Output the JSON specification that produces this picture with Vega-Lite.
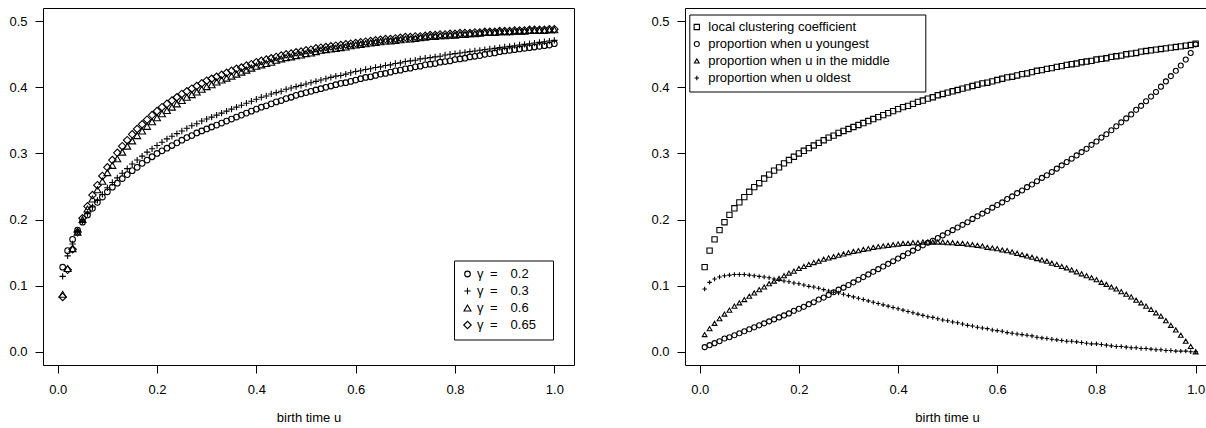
{
"$schema":"https://vega.github.io/schema/vega-lite/v6.json",
"padding":{"left":0,"top":7,"right":0,"bottom":0},
"background":"white",
"spacing":67,
"config":{
"font":"Liberation Sans",
"view":{"stroke":"black","strokeWidth":1},
"axis":{"domain":false,"grid":false,"tickColor":"black","tickSize":8,"tickWidth":1,"labelFont":"Liberation Sans","labelFontSize":13,"labelColor":"black","titleFont":"Liberation Sans","titleFontSize":13,"titleFontWeight":"normal","titleColor":"black"},
"axisY":{"labelPadding":8,"minExtent":42,"maxExtent":42},
"axisX":{"labelPadding":10,"titlePadding":15,"labelAngle":0},
"legend":{"labelLimit":500}
},
"resolve":{"scale":{"shape":"independent","size":"independent","x":"independent","y":"independent"},"legend":{"shape":"independent","size":"independent"}},
"datasets":{
"left":[
{"u":0.01,"s":"a","v":0.128},{"u":0.02,"s":"a","v":0.153},{"u":0.03,"s":"a","v":0.170},{"u":0.04,"s":"a","v":0.184},{"u":0.05,"s":"a","v":0.196},{"u":0.06,"s":"a","v":0.207},{"u":0.07,"s":"a","v":0.217},{"u":0.08,"s":"a","v":0.226},{"u":0.09,"s":"a","v":0.234},{"u":0.10,"s":"a","v":0.242},
{"u":0.11,"s":"a","v":0.249},{"u":0.12,"s":"a","v":0.255},{"u":0.13,"s":"a","v":0.262},{"u":0.14,"s":"a","v":0.268},{"u":0.15,"s":"a","v":0.274},{"u":0.16,"s":"a","v":0.279},{"u":0.17,"s":"a","v":0.285},{"u":0.18,"s":"a","v":0.290},{"u":0.19,"s":"a","v":0.295},{"u":0.20,"s":"a","v":0.300},
{"u":0.21,"s":"a","v":0.304},{"u":0.22,"s":"a","v":0.308},{"u":0.23,"s":"a","v":0.312},{"u":0.24,"s":"a","v":0.316},{"u":0.25,"s":"a","v":0.320},{"u":0.26,"s":"a","v":0.324},{"u":0.27,"s":"a","v":0.327},{"u":0.28,"s":"a","v":0.331},{"u":0.29,"s":"a","v":0.334},{"u":0.30,"s":"a","v":0.337},
{"u":0.31,"s":"a","v":0.340},{"u":0.32,"s":"a","v":0.343},{"u":0.33,"s":"a","v":0.346},{"u":0.34,"s":"a","v":0.349},{"u":0.35,"s":"a","v":0.352},{"u":0.36,"s":"a","v":0.355},{"u":0.37,"s":"a","v":0.358},{"u":0.38,"s":"a","v":0.361},{"u":0.39,"s":"a","v":0.364},{"u":0.40,"s":"a","v":0.367},
{"u":0.41,"s":"a","v":0.370},{"u":0.42,"s":"a","v":0.372},{"u":0.43,"s":"a","v":0.375},{"u":0.44,"s":"a","v":0.378},{"u":0.45,"s":"a","v":0.380},{"u":0.46,"s":"a","v":0.383},{"u":0.47,"s":"a","v":0.385},{"u":0.48,"s":"a","v":0.388},{"u":0.49,"s":"a","v":0.390},{"u":0.50,"s":"a","v":0.392},
{"u":0.51,"s":"a","v":0.394},{"u":0.52,"s":"a","v":0.396},{"u":0.53,"s":"a","v":0.398},{"u":0.54,"s":"a","v":0.400},{"u":0.55,"s":"a","v":0.402},{"u":0.56,"s":"a","v":0.404},{"u":0.57,"s":"a","v":0.406},{"u":0.58,"s":"a","v":0.407},{"u":0.59,"s":"a","v":0.409},{"u":0.60,"s":"a","v":0.411},
{"u":0.61,"s":"a","v":0.413},{"u":0.62,"s":"a","v":0.415},{"u":0.63,"s":"a","v":0.416},{"u":0.64,"s":"a","v":0.418},{"u":0.65,"s":"a","v":0.420},{"u":0.66,"s":"a","v":0.421},{"u":0.67,"s":"a","v":0.423},{"u":0.68,"s":"a","v":0.425},{"u":0.69,"s":"a","v":0.426},{"u":0.70,"s":"a","v":0.428},
{"u":0.71,"s":"a","v":0.429},{"u":0.72,"s":"a","v":0.431},{"u":0.73,"s":"a","v":0.432},{"u":0.74,"s":"a","v":0.434},{"u":0.75,"s":"a","v":0.435},{"u":0.76,"s":"a","v":0.436},{"u":0.77,"s":"a","v":0.438},{"u":0.78,"s":"a","v":0.439},{"u":0.79,"s":"a","v":0.440},{"u":0.80,"s":"a","v":0.442},
{"u":0.81,"s":"a","v":0.443},{"u":0.82,"s":"a","v":0.444},{"u":0.83,"s":"a","v":0.446},{"u":0.84,"s":"a","v":0.447},{"u":0.85,"s":"a","v":0.448},{"u":0.86,"s":"a","v":0.450},{"u":0.87,"s":"a","v":0.451},{"u":0.88,"s":"a","v":0.452},{"u":0.89,"s":"a","v":0.454},{"u":0.90,"s":"a","v":0.455},
{"u":0.91,"s":"a","v":0.456},{"u":0.92,"s":"a","v":0.457},{"u":0.93,"s":"a","v":0.458},{"u":0.94,"s":"a","v":0.459},{"u":0.95,"s":"a","v":0.460},{"u":0.96,"s":"a","v":0.461},{"u":0.97,"s":"a","v":0.462},{"u":0.98,"s":"a","v":0.463},{"u":0.99,"s":"a","v":0.464},{"u":1.00,"s":"a","v":0.466},
{"u":0.01,"s":"b","v":0.114},{"u":0.02,"s":"b","v":0.145},{"u":0.03,"s":"b","v":0.163},{"u":0.04,"s":"b","v":0.182},{"u":0.05,"s":"b","v":0.197},{"u":0.06,"s":"b","v":0.209},{"u":0.07,"s":"b","v":0.219},{"u":0.08,"s":"b","v":0.229},{"u":0.09,"s":"b","v":0.238},{"u":0.10,"s":"b","v":0.248},
{"u":0.11,"s":"b","v":0.256},{"u":0.12,"s":"b","v":0.263},{"u":0.13,"s":"b","v":0.270},{"u":0.14,"s":"b","v":0.277},{"u":0.15,"s":"b","v":0.284},{"u":0.16,"s":"b","v":0.290},{"u":0.17,"s":"b","v":0.296},{"u":0.18,"s":"b","v":0.302},{"u":0.19,"s":"b","v":0.307},{"u":0.20,"s":"b","v":0.312},
{"u":0.21,"s":"b","v":0.317},{"u":0.22,"s":"b","v":0.322},{"u":0.23,"s":"b","v":0.326},{"u":0.24,"s":"b","v":0.330},{"u":0.25,"s":"b","v":0.334},{"u":0.26,"s":"b","v":0.338},{"u":0.27,"s":"b","v":0.342},{"u":0.28,"s":"b","v":0.345},{"u":0.29,"s":"b","v":0.349},{"u":0.30,"s":"b","v":0.352},
{"u":0.31,"s":"b","v":0.355},{"u":0.32,"s":"b","v":0.358},{"u":0.33,"s":"b","v":0.361},{"u":0.34,"s":"b","v":0.364},{"u":0.35,"s":"b","v":0.367},{"u":0.36,"s":"b","v":0.370},{"u":0.37,"s":"b","v":0.373},{"u":0.38,"s":"b","v":0.376},{"u":0.39,"s":"b","v":0.379},{"u":0.40,"s":"b","v":0.382},
{"u":0.41,"s":"b","v":0.385},{"u":0.42,"s":"b","v":0.387},{"u":0.43,"s":"b","v":0.390},{"u":0.44,"s":"b","v":0.392},{"u":0.45,"s":"b","v":0.394},{"u":0.46,"s":"b","v":0.397},{"u":0.47,"s":"b","v":0.399},{"u":0.48,"s":"b","v":0.401},{"u":0.49,"s":"b","v":0.403},{"u":0.50,"s":"b","v":0.405},
{"u":0.51,"s":"b","v":0.407},{"u":0.52,"s":"b","v":0.409},{"u":0.53,"s":"b","v":0.411},{"u":0.54,"s":"b","v":0.413},{"u":0.55,"s":"b","v":0.415},{"u":0.56,"s":"b","v":0.417},{"u":0.57,"s":"b","v":0.418},{"u":0.58,"s":"b","v":0.420},{"u":0.59,"s":"b","v":0.422},{"u":0.60,"s":"b","v":0.424},
{"u":0.61,"s":"b","v":0.425},{"u":0.62,"s":"b","v":0.427},{"u":0.63,"s":"b","v":0.428},{"u":0.64,"s":"b","v":0.430},{"u":0.65,"s":"b","v":0.431},{"u":0.66,"s":"b","v":0.433},{"u":0.67,"s":"b","v":0.434},{"u":0.68,"s":"b","v":0.436},{"u":0.69,"s":"b","v":0.437},{"u":0.70,"s":"b","v":0.439},
{"u":0.71,"s":"b","v":0.440},{"u":0.72,"s":"b","v":0.441},{"u":0.73,"s":"b","v":0.443},{"u":0.74,"s":"b","v":0.444},{"u":0.75,"s":"b","v":0.445},{"u":0.76,"s":"b","v":0.446},{"u":0.77,"s":"b","v":0.447},{"u":0.78,"s":"b","v":0.449},{"u":0.79,"s":"b","v":0.450},{"u":0.80,"s":"b","v":0.451},
{"u":0.81,"s":"b","v":0.452},{"u":0.82,"s":"b","v":0.453},{"u":0.83,"s":"b","v":0.454},{"u":0.84,"s":"b","v":0.455},{"u":0.85,"s":"b","v":0.456},{"u":0.86,"s":"b","v":0.457},{"u":0.87,"s":"b","v":0.458},{"u":0.88,"s":"b","v":0.459},{"u":0.89,"s":"b","v":0.460},{"u":0.90,"s":"b","v":0.461},
{"u":0.91,"s":"b","v":0.462},{"u":0.92,"s":"b","v":0.463},{"u":0.93,"s":"b","v":0.464},{"u":0.94,"s":"b","v":0.465},{"u":0.95,"s":"b","v":0.466},{"u":0.96,"s":"b","v":0.467},{"u":0.97,"s":"b","v":0.468},{"u":0.98,"s":"b","v":0.469},{"u":0.99,"s":"b","v":0.470},{"u":1.00,"s":"b","v":0.471},
{"u":0.01,"s":"c","v":0.087},{"u":0.02,"s":"c","v":0.126},{"u":0.03,"s":"c","v":0.156},{"u":0.04,"s":"c","v":0.181},{"u":0.05,"s":"c","v":0.200},{"u":0.06,"s":"c","v":0.216},{"u":0.07,"s":"c","v":0.231},{"u":0.08,"s":"c","v":0.245},{"u":0.09,"s":"c","v":0.258},{"u":0.10,"s":"c","v":0.271},
{"u":0.11,"s":"c","v":0.282},{"u":0.12,"s":"c","v":0.292},{"u":0.13,"s":"c","v":0.302},{"u":0.14,"s":"c","v":0.311},{"u":0.15,"s":"c","v":0.319},{"u":0.16,"s":"c","v":0.327},{"u":0.17,"s":"c","v":0.334},{"u":0.18,"s":"c","v":0.341},{"u":0.19,"s":"c","v":0.348},{"u":0.20,"s":"c","v":0.354},
{"u":0.21,"s":"c","v":0.360},{"u":0.22,"s":"c","v":0.365},{"u":0.23,"s":"c","v":0.370},{"u":0.24,"s":"c","v":0.375},{"u":0.25,"s":"c","v":0.380},{"u":0.26,"s":"c","v":0.385},{"u":0.27,"s":"c","v":0.389},{"u":0.28,"s":"c","v":0.393},{"u":0.29,"s":"c","v":0.397},{"u":0.30,"s":"c","v":0.401},
{"u":0.31,"s":"c","v":0.404},{"u":0.32,"s":"c","v":0.408},{"u":0.33,"s":"c","v":0.411},{"u":0.34,"s":"c","v":0.414},{"u":0.35,"s":"c","v":0.417},{"u":0.36,"s":"c","v":0.420},{"u":0.37,"s":"c","v":0.423},{"u":0.38,"s":"c","v":0.426},{"u":0.39,"s":"c","v":0.429},{"u":0.40,"s":"c","v":0.432},
{"u":0.41,"s":"c","v":0.434},{"u":0.42,"s":"c","v":0.436},{"u":0.43,"s":"c","v":0.438},{"u":0.44,"s":"c","v":0.441},{"u":0.45,"s":"c","v":0.443},{"u":0.46,"s":"c","v":0.445},{"u":0.47,"s":"c","v":0.446},{"u":0.48,"s":"c","v":0.448},{"u":0.49,"s":"c","v":0.449},{"u":0.50,"s":"c","v":0.451},
{"u":0.51,"s":"c","v":0.452},{"u":0.52,"s":"c","v":0.454},{"u":0.53,"s":"c","v":0.456},{"u":0.54,"s":"c","v":0.457},{"u":0.55,"s":"c","v":0.458},{"u":0.56,"s":"c","v":0.459},{"u":0.57,"s":"c","v":0.460},{"u":0.58,"s":"c","v":0.461},{"u":0.59,"s":"c","v":0.463},{"u":0.60,"s":"c","v":0.464},
{"u":0.61,"s":"c","v":0.465},{"u":0.62,"s":"c","v":0.466},{"u":0.63,"s":"c","v":0.467},{"u":0.64,"s":"c","v":0.468},{"u":0.65,"s":"c","v":0.469},{"u":0.66,"s":"c","v":0.470},{"u":0.67,"s":"c","v":0.470},{"u":0.68,"s":"c","v":0.471},{"u":0.69,"s":"c","v":0.472},{"u":0.70,"s":"c","v":0.473},
{"u":0.71,"s":"c","v":0.473},{"u":0.72,"s":"c","v":0.474},{"u":0.73,"s":"c","v":0.475},{"u":0.74,"s":"c","v":0.476},{"u":0.75,"s":"c","v":0.477},{"u":0.76,"s":"c","v":0.477},{"u":0.77,"s":"c","v":0.478},{"u":0.78,"s":"c","v":0.478},{"u":0.79,"s":"c","v":0.479},{"u":0.80,"s":"c","v":0.479},
{"u":0.81,"s":"c","v":0.480},{"u":0.82,"s":"c","v":0.480},{"u":0.83,"s":"c","v":0.481},{"u":0.84,"s":"c","v":0.481},{"u":0.85,"s":"c","v":0.482},{"u":0.86,"s":"c","v":0.483},{"u":0.87,"s":"c","v":0.483},{"u":0.88,"s":"c","v":0.483},{"u":0.89,"s":"c","v":0.484},{"u":0.90,"s":"c","v":0.484},
{"u":0.91,"s":"c","v":0.484},{"u":0.92,"s":"c","v":0.485},{"u":0.93,"s":"c","v":0.485},{"u":0.94,"s":"c","v":0.485},{"u":0.95,"s":"c","v":0.486},{"u":0.96,"s":"c","v":0.486},{"u":0.97,"s":"c","v":0.486},{"u":0.98,"s":"c","v":0.486},{"u":0.99,"s":"c","v":0.487},{"u":1.00,"s":"c","v":0.487},
{"u":0.01,"s":"d","v":0.083},{"u":0.02,"s":"d","v":0.124},{"u":0.03,"s":"d","v":0.155},{"u":0.04,"s":"d","v":0.181},{"u":0.05,"s":"d","v":0.202},{"u":0.06,"s":"d","v":0.220},{"u":0.07,"s":"d","v":0.237},{"u":0.08,"s":"d","v":0.252},{"u":0.09,"s":"d","v":0.266},{"u":0.10,"s":"d","v":0.279},
{"u":0.11,"s":"d","v":0.290},{"u":0.12,"s":"d","v":0.301},{"u":0.13,"s":"d","v":0.311},{"u":0.14,"s":"d","v":0.320},{"u":0.15,"s":"d","v":0.329},{"u":0.16,"s":"d","v":0.337},{"u":0.17,"s":"d","v":0.344},{"u":0.18,"s":"d","v":0.351},{"u":0.19,"s":"d","v":0.358},{"u":0.20,"s":"d","v":0.364},
{"u":0.21,"s":"d","v":0.370},{"u":0.22,"s":"d","v":0.375},{"u":0.23,"s":"d","v":0.380},{"u":0.24,"s":"d","v":0.385},{"u":0.25,"s":"d","v":0.390},{"u":0.26,"s":"d","v":0.394},{"u":0.27,"s":"d","v":0.398},{"u":0.28,"s":"d","v":0.402},{"u":0.29,"s":"d","v":0.406},{"u":0.30,"s":"d","v":0.410},
{"u":0.31,"s":"d","v":0.413},{"u":0.32,"s":"d","v":0.416},{"u":0.33,"s":"d","v":0.419},{"u":0.34,"s":"d","v":0.422},{"u":0.35,"s":"d","v":0.425},{"u":0.36,"s":"d","v":0.428},{"u":0.37,"s":"d","v":0.430},{"u":0.38,"s":"d","v":0.433},{"u":0.39,"s":"d","v":0.435},{"u":0.40,"s":"d","v":0.438},
{"u":0.41,"s":"d","v":0.440},{"u":0.42,"s":"d","v":0.442},{"u":0.43,"s":"d","v":0.444},{"u":0.44,"s":"d","v":0.446},{"u":0.45,"s":"d","v":0.448},{"u":0.46,"s":"d","v":0.450},{"u":0.47,"s":"d","v":0.451},{"u":0.48,"s":"d","v":0.453},{"u":0.49,"s":"d","v":0.454},{"u":0.50,"s":"d","v":0.456},
{"u":0.51,"s":"d","v":0.457},{"u":0.52,"s":"d","v":0.459},{"u":0.53,"s":"d","v":0.460},{"u":0.54,"s":"d","v":0.461},{"u":0.55,"s":"d","v":0.462},{"u":0.56,"s":"d","v":0.463},{"u":0.57,"s":"d","v":0.464},{"u":0.58,"s":"d","v":0.465},{"u":0.59,"s":"d","v":0.466},{"u":0.60,"s":"d","v":0.467},
{"u":0.61,"s":"d","v":0.468},{"u":0.62,"s":"d","v":0.469},{"u":0.63,"s":"d","v":0.470},{"u":0.64,"s":"d","v":0.471},{"u":0.65,"s":"d","v":0.472},{"u":0.66,"s":"d","v":0.473},{"u":0.67,"s":"d","v":0.473},{"u":0.68,"s":"d","v":0.474},{"u":0.69,"s":"d","v":0.475},{"u":0.70,"s":"d","v":0.476},
{"u":0.71,"s":"d","v":0.476},{"u":0.72,"s":"d","v":0.477},{"u":0.73,"s":"d","v":0.477},{"u":0.74,"s":"d","v":0.478},{"u":0.75,"s":"d","v":0.479},{"u":0.76,"s":"d","v":0.479},{"u":0.77,"s":"d","v":0.480},{"u":0.78,"s":"d","v":0.480},{"u":0.79,"s":"d","v":0.481},{"u":0.80,"s":"d","v":0.481},
{"u":0.81,"s":"d","v":0.482},{"u":0.82,"s":"d","v":0.482},{"u":0.83,"s":"d","v":0.482},{"u":0.84,"s":"d","v":0.483},{"u":0.85,"s":"d","v":0.483},{"u":0.86,"s":"d","v":0.484},{"u":0.87,"s":"d","v":0.484},{"u":0.88,"s":"d","v":0.484},{"u":0.89,"s":"d","v":0.485},{"u":0.90,"s":"d","v":0.485},
{"u":0.91,"s":"d","v":0.485},{"u":0.92,"s":"d","v":0.486},{"u":0.93,"s":"d","v":0.486},{"u":0.94,"s":"d","v":0.486},{"u":0.95,"s":"d","v":0.487},{"u":0.96,"s":"d","v":0.487},{"u":0.97,"s":"d","v":0.487},{"u":0.98,"s":"d","v":0.487},{"u":0.99,"s":"d","v":0.488},{"u":1.00,"s":"d","v":0.488}
],
"right":[
{"u":0.01,"s":"s","v":0.128},{"u":0.02,"s":"s","v":0.153},{"u":0.03,"s":"s","v":0.170},{"u":0.04,"s":"s","v":0.184},{"u":0.05,"s":"s","v":0.196},{"u":0.06,"s":"s","v":0.207},{"u":0.07,"s":"s","v":0.217},{"u":0.08,"s":"s","v":0.226},{"u":0.09,"s":"s","v":0.234},{"u":0.10,"s":"s","v":0.242},
{"u":0.11,"s":"s","v":0.249},{"u":0.12,"s":"s","v":0.255},{"u":0.13,"s":"s","v":0.262},{"u":0.14,"s":"s","v":0.268},{"u":0.15,"s":"s","v":0.274},{"u":0.16,"s":"s","v":0.279},{"u":0.17,"s":"s","v":0.285},{"u":0.18,"s":"s","v":0.290},{"u":0.19,"s":"s","v":0.295},{"u":0.20,"s":"s","v":0.300},
{"u":0.21,"s":"s","v":0.304},{"u":0.22,"s":"s","v":0.308},{"u":0.23,"s":"s","v":0.312},{"u":0.24,"s":"s","v":0.316},{"u":0.25,"s":"s","v":0.320},{"u":0.26,"s":"s","v":0.324},{"u":0.27,"s":"s","v":0.327},{"u":0.28,"s":"s","v":0.331},{"u":0.29,"s":"s","v":0.334},{"u":0.30,"s":"s","v":0.337},
{"u":0.31,"s":"s","v":0.340},{"u":0.32,"s":"s","v":0.343},{"u":0.33,"s":"s","v":0.346},{"u":0.34,"s":"s","v":0.349},{"u":0.35,"s":"s","v":0.352},{"u":0.36,"s":"s","v":0.355},{"u":0.37,"s":"s","v":0.358},{"u":0.38,"s":"s","v":0.361},{"u":0.39,"s":"s","v":0.364},{"u":0.40,"s":"s","v":0.367},
{"u":0.41,"s":"s","v":0.370},{"u":0.42,"s":"s","v":0.372},{"u":0.43,"s":"s","v":0.375},{"u":0.44,"s":"s","v":0.378},{"u":0.45,"s":"s","v":0.380},{"u":0.46,"s":"s","v":0.383},{"u":0.47,"s":"s","v":0.385},{"u":0.48,"s":"s","v":0.388},{"u":0.49,"s":"s","v":0.390},{"u":0.50,"s":"s","v":0.392},
{"u":0.51,"s":"s","v":0.394},{"u":0.52,"s":"s","v":0.396},{"u":0.53,"s":"s","v":0.398},{"u":0.54,"s":"s","v":0.400},{"u":0.55,"s":"s","v":0.402},{"u":0.56,"s":"s","v":0.404},{"u":0.57,"s":"s","v":0.406},{"u":0.58,"s":"s","v":0.407},{"u":0.59,"s":"s","v":0.409},{"u":0.60,"s":"s","v":0.411},
{"u":0.61,"s":"s","v":0.413},{"u":0.62,"s":"s","v":0.415},{"u":0.63,"s":"s","v":0.416},{"u":0.64,"s":"s","v":0.418},{"u":0.65,"s":"s","v":0.420},{"u":0.66,"s":"s","v":0.421},{"u":0.67,"s":"s","v":0.423},{"u":0.68,"s":"s","v":0.425},{"u":0.69,"s":"s","v":0.426},{"u":0.70,"s":"s","v":0.428},
{"u":0.71,"s":"s","v":0.429},{"u":0.72,"s":"s","v":0.431},{"u":0.73,"s":"s","v":0.432},{"u":0.74,"s":"s","v":0.434},{"u":0.75,"s":"s","v":0.435},{"u":0.76,"s":"s","v":0.436},{"u":0.77,"s":"s","v":0.438},{"u":0.78,"s":"s","v":0.439},{"u":0.79,"s":"s","v":0.440},{"u":0.80,"s":"s","v":0.442},
{"u":0.81,"s":"s","v":0.443},{"u":0.82,"s":"s","v":0.444},{"u":0.83,"s":"s","v":0.446},{"u":0.84,"s":"s","v":0.447},{"u":0.85,"s":"s","v":0.448},{"u":0.86,"s":"s","v":0.450},{"u":0.87,"s":"s","v":0.451},{"u":0.88,"s":"s","v":0.452},{"u":0.89,"s":"s","v":0.454},{"u":0.90,"s":"s","v":0.455},
{"u":0.91,"s":"s","v":0.456},{"u":0.92,"s":"s","v":0.457},{"u":0.93,"s":"s","v":0.458},{"u":0.94,"s":"s","v":0.459},{"u":0.95,"s":"s","v":0.460},{"u":0.96,"s":"s","v":0.461},{"u":0.97,"s":"s","v":0.462},{"u":0.98,"s":"s","v":0.463},{"u":0.99,"s":"s","v":0.464},{"u":1.00,"s":"s","v":0.466},
{"u":0.01,"s":"y","v":0.007},{"u":0.02,"s":"y","v":0.010},{"u":0.03,"s":"y","v":0.013},{"u":0.04,"s":"y","v":0.016},{"u":0.05,"s":"y","v":0.020},{"u":0.06,"s":"y","v":0.022},{"u":0.07,"s":"y","v":0.025},{"u":0.08,"s":"y","v":0.028},{"u":0.09,"s":"y","v":0.031},{"u":0.10,"s":"y","v":0.034},
{"u":0.11,"s":"y","v":0.037},{"u":0.12,"s":"y","v":0.040},{"u":0.13,"s":"y","v":0.043},{"u":0.14,"s":"y","v":0.046},{"u":0.15,"s":"y","v":0.049},{"u":0.16,"s":"y","v":0.052},{"u":0.17,"s":"y","v":0.055},{"u":0.18,"s":"y","v":0.058},{"u":0.19,"s":"y","v":0.062},{"u":0.20,"s":"y","v":0.065},
{"u":0.21,"s":"y","v":0.068},{"u":0.22,"s":"y","v":0.072},{"u":0.23,"s":"y","v":0.075},{"u":0.24,"s":"y","v":0.079},{"u":0.25,"s":"y","v":0.082},{"u":0.26,"s":"y","v":0.086},{"u":0.27,"s":"y","v":0.090},{"u":0.28,"s":"y","v":0.094},{"u":0.29,"s":"y","v":0.097},{"u":0.30,"s":"y","v":0.101},
{"u":0.31,"s":"y","v":0.105},{"u":0.32,"s":"y","v":0.109},{"u":0.33,"s":"y","v":0.113},{"u":0.34,"s":"y","v":0.117},{"u":0.35,"s":"y","v":0.121},{"u":0.36,"s":"y","v":0.125},{"u":0.37,"s":"y","v":0.129},{"u":0.38,"s":"y","v":0.133},{"u":0.39,"s":"y","v":0.137},{"u":0.40,"s":"y","v":0.141},
{"u":0.41,"s":"y","v":0.145},{"u":0.42,"s":"y","v":0.149},{"u":0.43,"s":"y","v":0.153},{"u":0.44,"s":"y","v":0.157},{"u":0.45,"s":"y","v":0.161},{"u":0.46,"s":"y","v":0.165},{"u":0.47,"s":"y","v":0.168},{"u":0.48,"s":"y","v":0.172},{"u":0.49,"s":"y","v":0.176},{"u":0.50,"s":"y","v":0.180},
{"u":0.51,"s":"y","v":0.184},{"u":0.52,"s":"y","v":0.188},{"u":0.53,"s":"y","v":0.192},{"u":0.54,"s":"y","v":0.196},{"u":0.55,"s":"y","v":0.201},{"u":0.56,"s":"y","v":0.205},{"u":0.57,"s":"y","v":0.209},{"u":0.58,"s":"y","v":0.213},{"u":0.59,"s":"y","v":0.218},{"u":0.60,"s":"y","v":0.222},
{"u":0.61,"s":"y","v":0.226},{"u":0.62,"s":"y","v":0.231},{"u":0.63,"s":"y","v":0.235},{"u":0.64,"s":"y","v":0.240},{"u":0.65,"s":"y","v":0.244},{"u":0.66,"s":"y","v":0.249},{"u":0.67,"s":"y","v":0.253},{"u":0.68,"s":"y","v":0.258},{"u":0.69,"s":"y","v":0.263},{"u":0.70,"s":"y","v":0.267},
{"u":0.71,"s":"y","v":0.272},{"u":0.72,"s":"y","v":0.277},{"u":0.73,"s":"y","v":0.282},{"u":0.74,"s":"y","v":0.287},{"u":0.75,"s":"y","v":0.292},{"u":0.76,"s":"y","v":0.297},{"u":0.77,"s":"y","v":0.302},{"u":0.78,"s":"y","v":0.307},{"u":0.79,"s":"y","v":0.313},{"u":0.80,"s":"y","v":0.318},
{"u":0.81,"s":"y","v":0.324},{"u":0.82,"s":"y","v":0.329},{"u":0.83,"s":"y","v":0.335},{"u":0.84,"s":"y","v":0.341},{"u":0.85,"s":"y","v":0.347},{"u":0.86,"s":"y","v":0.353},{"u":0.87,"s":"y","v":0.359},{"u":0.88,"s":"y","v":0.366},{"u":0.89,"s":"y","v":0.372},{"u":0.90,"s":"y","v":0.379},
{"u":0.91,"s":"y","v":0.386},{"u":0.92,"s":"y","v":0.393},{"u":0.93,"s":"y","v":0.401},{"u":0.94,"s":"y","v":0.409},{"u":0.95,"s":"y","v":0.417},{"u":0.96,"s":"y","v":0.425},{"u":0.97,"s":"y","v":0.433},{"u":0.98,"s":"y","v":0.442},{"u":0.99,"s":"y","v":0.452},{"u":1.00,"s":"y","v":0.465},
{"u":0.01,"s":"m","v":0.026},{"u":0.02,"s":"m","v":0.035},{"u":0.03,"s":"m","v":0.043},{"u":0.04,"s":"m","v":0.050},{"u":0.05,"s":"m","v":0.057},{"u":0.06,"s":"m","v":0.063},{"u":0.07,"s":"m","v":0.069},{"u":0.08,"s":"m","v":0.074},{"u":0.09,"s":"m","v":0.079},{"u":0.10,"s":"m","v":0.084},
{"u":0.11,"s":"m","v":0.089},{"u":0.12,"s":"m","v":0.094},{"u":0.13,"s":"m","v":0.098},{"u":0.14,"s":"m","v":0.103},{"u":0.15,"s":"m","v":0.107},{"u":0.16,"s":"m","v":0.111},{"u":0.17,"s":"m","v":0.115},{"u":0.18,"s":"m","v":0.119},{"u":0.19,"s":"m","v":0.122},{"u":0.20,"s":"m","v":0.126},
{"u":0.21,"s":"m","v":0.129},{"u":0.22,"s":"m","v":0.132},{"u":0.23,"s":"m","v":0.135},{"u":0.24,"s":"m","v":0.137},{"u":0.25,"s":"m","v":0.140},{"u":0.26,"s":"m","v":0.142},{"u":0.27,"s":"m","v":0.144},{"u":0.28,"s":"m","v":0.146},{"u":0.29,"s":"m","v":0.148},{"u":0.30,"s":"m","v":0.150},
{"u":0.31,"s":"m","v":0.152},{"u":0.32,"s":"m","v":0.153},{"u":0.33,"s":"m","v":0.155},{"u":0.34,"s":"m","v":0.156},{"u":0.35,"s":"m","v":0.158},{"u":0.36,"s":"m","v":0.159},{"u":0.37,"s":"m","v":0.160},{"u":0.38,"s":"m","v":0.161},{"u":0.39,"s":"m","v":0.162},{"u":0.40,"s":"m","v":0.163},
{"u":0.41,"s":"m","v":0.164},{"u":0.42,"s":"m","v":0.164},{"u":0.43,"s":"m","v":0.165},{"u":0.44,"s":"m","v":0.165},{"u":0.45,"s":"m","v":0.166},{"u":0.46,"s":"m","v":0.166},{"u":0.47,"s":"m","v":0.166},{"u":0.48,"s":"m","v":0.166},{"u":0.49,"s":"m","v":0.166},{"u":0.50,"s":"m","v":0.165},
{"u":0.51,"s":"m","v":0.165},{"u":0.52,"s":"m","v":0.164},{"u":0.53,"s":"m","v":0.164},{"u":0.54,"s":"m","v":0.163},{"u":0.55,"s":"m","v":0.162},{"u":0.56,"s":"m","v":0.161},{"u":0.57,"s":"m","v":0.160},{"u":0.58,"s":"m","v":0.158},{"u":0.59,"s":"m","v":0.157},{"u":0.60,"s":"m","v":0.156},
{"u":0.61,"s":"m","v":0.154},{"u":0.62,"s":"m","v":0.153},{"u":0.63,"s":"m","v":0.151},{"u":0.64,"s":"m","v":0.149},{"u":0.65,"s":"m","v":0.147},{"u":0.66,"s":"m","v":0.145},{"u":0.67,"s":"m","v":0.143},{"u":0.68,"s":"m","v":0.141},{"u":0.69,"s":"m","v":0.139},{"u":0.70,"s":"m","v":0.137},
{"u":0.71,"s":"m","v":0.134},{"u":0.72,"s":"m","v":0.132},{"u":0.73,"s":"m","v":0.129},{"u":0.74,"s":"m","v":0.127},{"u":0.75,"s":"m","v":0.124},{"u":0.76,"s":"m","v":0.121},{"u":0.77,"s":"m","v":0.118},{"u":0.78,"s":"m","v":0.115},{"u":0.79,"s":"m","v":0.112},{"u":0.80,"s":"m","v":0.109},
{"u":0.81,"s":"m","v":0.105},{"u":0.82,"s":"m","v":0.102},{"u":0.83,"s":"m","v":0.098},{"u":0.84,"s":"m","v":0.095},{"u":0.85,"s":"m","v":0.091},{"u":0.86,"s":"m","v":0.087},{"u":0.87,"s":"m","v":0.083},{"u":0.88,"s":"m","v":0.078},{"u":0.89,"s":"m","v":0.074},{"u":0.90,"s":"m","v":0.069},
{"u":0.91,"s":"m","v":0.064},{"u":0.92,"s":"m","v":0.059},{"u":0.93,"s":"m","v":0.054},{"u":0.94,"s":"m","v":0.047},{"u":0.95,"s":"m","v":0.040},{"u":0.96,"s":"m","v":0.033},{"u":0.97,"s":"m","v":0.025},{"u":0.98,"s":"m","v":0.016},{"u":0.99,"s":"m","v":0.008},{"u":1.00,"s":"m","v":0.000},
{"u":0.01,"s":"o","v":0.095},{"u":0.02,"s":"o","v":0.105},{"u":0.03,"s":"o","v":0.110},{"u":0.04,"s":"o","v":0.113},{"u":0.05,"s":"o","v":0.115},{"u":0.06,"s":"o","v":0.116},{"u":0.07,"s":"o","v":0.117},{"u":0.08,"s":"o","v":0.117},{"u":0.09,"s":"o","v":0.117},{"u":0.10,"s":"o","v":0.116},
{"u":0.11,"s":"o","v":0.115},{"u":0.12,"s":"o","v":0.114},{"u":0.13,"s":"o","v":0.113},{"u":0.14,"s":"o","v":0.112},{"u":0.15,"s":"o","v":0.110},{"u":0.16,"s":"o","v":0.109},{"u":0.17,"s":"o","v":0.107},{"u":0.18,"s":"o","v":0.106},{"u":0.19,"s":"o","v":0.104},{"u":0.20,"s":"o","v":0.103},
{"u":0.21,"s":"o","v":0.101},{"u":0.22,"s":"o","v":0.099},{"u":0.23,"s":"o","v":0.098},{"u":0.24,"s":"o","v":0.096},{"u":0.25,"s":"o","v":0.094},{"u":0.26,"s":"o","v":0.092},{"u":0.27,"s":"o","v":0.090},{"u":0.28,"s":"o","v":0.089},{"u":0.29,"s":"o","v":0.087},{"u":0.30,"s":"o","v":0.085},
{"u":0.31,"s":"o","v":0.083},{"u":0.32,"s":"o","v":0.081},{"u":0.33,"s":"o","v":0.079},{"u":0.34,"s":"o","v":0.077},{"u":0.35,"s":"o","v":0.075},{"u":0.36,"s":"o","v":0.073},{"u":0.37,"s":"o","v":0.071},{"u":0.38,"s":"o","v":0.069},{"u":0.39,"s":"o","v":0.067},{"u":0.40,"s":"o","v":0.065},
{"u":0.41,"s":"o","v":0.063},{"u":0.42,"s":"o","v":0.061},{"u":0.43,"s":"o","v":0.059},{"u":0.44,"s":"o","v":0.057},{"u":0.45,"s":"o","v":0.055},{"u":0.46,"s":"o","v":0.053},{"u":0.47,"s":"o","v":0.052},{"u":0.48,"s":"o","v":0.050},{"u":0.49,"s":"o","v":0.048},{"u":0.50,"s":"o","v":0.047},
{"u":0.51,"s":"o","v":0.045},{"u":0.52,"s":"o","v":0.044},{"u":0.53,"s":"o","v":0.042},{"u":0.54,"s":"o","v":0.040},{"u":0.55,"s":"o","v":0.039},{"u":0.56,"s":"o","v":0.037},{"u":0.57,"s":"o","v":0.036},{"u":0.58,"s":"o","v":0.035},{"u":0.59,"s":"o","v":0.033},{"u":0.60,"s":"o","v":0.032},
{"u":0.61,"s":"o","v":0.031},{"u":0.62,"s":"o","v":0.029},{"u":0.63,"s":"o","v":0.028},{"u":0.64,"s":"o","v":0.027},{"u":0.65,"s":"o","v":0.026},{"u":0.66,"s":"o","v":0.025},{"u":0.67,"s":"o","v":0.024},{"u":0.68,"s":"o","v":0.022},{"u":0.69,"s":"o","v":0.021},{"u":0.70,"s":"o","v":0.020},
{"u":0.71,"s":"o","v":0.019},{"u":0.72,"s":"o","v":0.018},{"u":0.73,"s":"o","v":0.017},{"u":0.74,"s":"o","v":0.016},{"u":0.75,"s":"o","v":0.016},{"u":0.76,"s":"o","v":0.015},{"u":0.77,"s":"o","v":0.014},{"u":0.78,"s":"o","v":0.013},{"u":0.79,"s":"o","v":0.012},{"u":0.80,"s":"o","v":0.012},
{"u":0.81,"s":"o","v":0.011},{"u":0.82,"s":"o","v":0.010},{"u":0.83,"s":"o","v":0.009},{"u":0.84,"s":"o","v":0.008},{"u":0.85,"s":"o","v":0.008},{"u":0.86,"s":"o","v":0.007},{"u":0.87,"s":"o","v":0.006},{"u":0.88,"s":"o","v":0.006},{"u":0.89,"s":"o","v":0.005},{"u":0.90,"s":"o","v":0.005},
{"u":0.91,"s":"o","v":0.004},{"u":0.92,"s":"o","v":0.003},{"u":0.93,"s":"o","v":0.003},{"u":0.94,"s":"o","v":0.002},{"u":0.95,"s":"o","v":0.002},{"u":0.96,"s":"o","v":0.001},{"u":0.97,"s":"o","v":0.001},{"u":0.98,"s":"o","v":0.001},{"u":0.99,"s":"o","v":0.000},{"u":1.00,"s":"o","v":0.000}
]
},
"hconcat":[
{
"width":531,"height":357,
"data":{"name":"left"},
"mark":{"type":"point","filled":false,"strokeWidth":1.1,"color":"black","opacity":1},
"encoding":{
"x":{"field":"u","type":"quantitative","scale":{"domain":[-0.0296,1.0396],"nice":false,"zero":false},"axis":{"values":[0,0.2,0.4,0.6,0.8,1],"format":".1f","title":"birth time u"}},
"y":{"field":"v","type":"quantitative","scale":{"domain":[-0.02,0.52],"nice":false,"zero":false},"axis":{"values":[0,0.1,0.2,0.3,0.4,0.5],"format":".1f","title":null}},
"shape":{"field":"s","type":"nominal","scale":{"domain":["a","b","c","d"],"range":["circle","M-1,0H1M0,-1V1","triangle-up","diamond"]},
"legend":{"orient":"none","legendX":411,"legendY":252.5,"title":null,"strokeColor":"black","fillColor":"white","padding":7,"rowPadding":3,"labelOffset":3,"labelFontSize":13,"labelFont":"Liberation Sans","labelColor":"black","symbolStrokeColor":"black","symbolStrokeWidth":1.1,
"labelExpr":"(datum.label == 'a' ? 'γ\u2002=\u20030.2' : datum.label == 'b' ? 'γ\u2002=\u20030.3' : datum.label == 'c' ? 'γ\u2002=\u20030.6' : 'γ\u2002=\u20030.65') + '\u2800'"}},
"size":{"field":"s","type":"nominal","scale":{"domain":["a","b","c","d"],"range":[32,56,56,56]},
"legend":{"orient":"none","legendX":411,"legendY":252.5,"title":null,"strokeColor":"black","fillColor":"white","padding":7,"rowPadding":3,"labelOffset":3,"labelFontSize":13,"labelFont":"Liberation Sans","labelColor":"black","symbolStrokeColor":"black","symbolStrokeWidth":1.1,
"labelExpr":"(datum.label == 'a' ? 'γ\u2002=\u20030.2' : datum.label == 'b' ? 'γ\u2002=\u20030.3' : datum.label == 'c' ? 'γ\u2002=\u20030.6' : 'γ\u2002=\u20030.65') + '\u2800'"}}
}
},
{
"width":524,"height":357,
"data":{"name":"right"},
"mark":{"type":"point","filled":false,"strokeWidth":1.1,"color":"black","opacity":1},
"encoding":{
"x":{"field":"u","type":"quantitative","scale":{"domain":[-0.0296,1.0269],"nice":false,"zero":false},"axis":{"values":[0,0.2,0.4,0.6,0.8,1],"format":".1f","title":"birth time u"}},
"y":{"field":"v","type":"quantitative","scale":{"domain":[-0.02,0.52],"nice":false,"zero":false},"axis":{"values":[0,0.1,0.2,0.3,0.4,0.5],"format":".1f","title":null}},
"shape":{"field":"s","type":"nominal","scale":{"domain":["s","y","m","o"],"range":["square","circle","triangle-up","M-1,0H1M0,-1V1"]},
"legend":{"orient":"none","legendX":4.3,"legendY":6.5,"title":null,"strokeColor":"black","fillColor":"white","padding":6,"rowPadding":3,"labelOffset":5,"symbolOffset":-5,"labelFontSize":13,"labelFont":"Liberation Sans","labelColor":"black","symbolStrokeColor":"black","symbolStrokeWidth":1.1,
"labelExpr":"(datum.label == 's' ? 'local clustering coefficient' : datum.label == 'y' ? 'proportion when u youngest' : datum.label == 'm' ? 'proportion when u in the middle' : 'proportion when u oldest') + '\u2003\u2002\u2800'"}},
"size":{"field":"s","type":"nominal","scale":{"domain":["s","y","m","o"],"range":[28,20,40,49]},
"legend":{"orient":"none","legendX":4.3,"legendY":6.5,"title":null,"strokeColor":"black","fillColor":"white","padding":6,"rowPadding":3,"labelOffset":5,"symbolOffset":-5,"labelFontSize":13,"labelFont":"Liberation Sans","labelColor":"black","symbolStrokeColor":"black","symbolStrokeWidth":1.1,
"labelExpr":"(datum.label == 's' ? 'local clustering coefficient' : datum.label == 'y' ? 'proportion when u youngest' : datum.label == 'm' ? 'proportion when u in the middle' : 'proportion when u oldest') + '\u2003\u2002\u2800'"}}
}
}
]
}
